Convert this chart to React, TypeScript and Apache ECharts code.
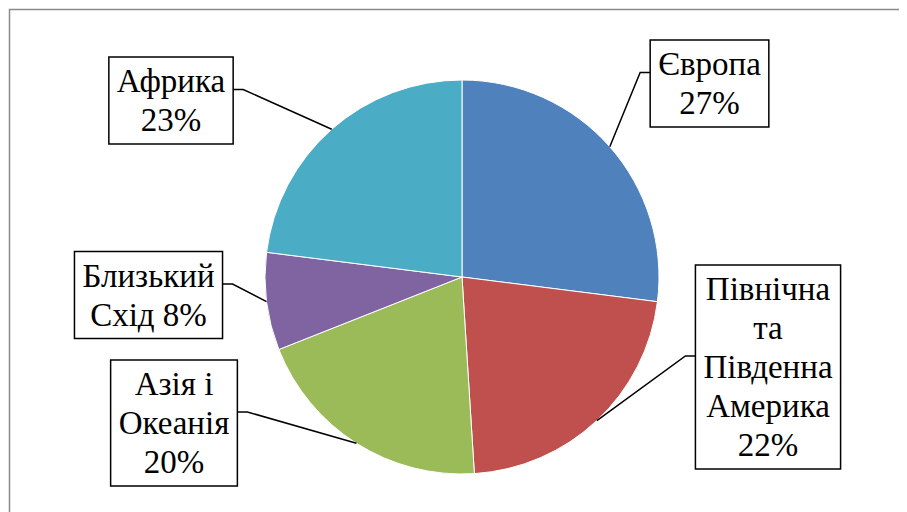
import React, { useEffect, useRef } from "react";
import * as echarts from "echarts";

const categories = [
  "Європа",
  "Північна та Південна Америка",
  "Азія і Океанія",
  "Близький Схід",
  "Африка",
];
const wrappedNames = [
  "Європа",
  "Північна\nта\nПівденна\nАмерика",
  "Азія і\nОкеанія",
  "Близький\nСхід",
  "Африка",
];
const percentSeparators = ["\n", "\n", "\n", " ", "\n"];
const values = [27, 22, 20, 8, 23];
const colors = ["#4F81BD", "#C0504D", "#9BBB59", "#8064A2", "#4BACC6"];

// layout (chart px): pie geometry and label box centres
const PIE_CX = 454;
const PIE_CY = 269;
const PIE_R = 197;
const labelCenters = [
  [701.5, 75.5],
  [760, 359],
  [166, 415],
  [140.5, 287],
  [163, 92.5],
];
const attachLeft = [true, true, false, false, false];

const FONT = "33px 'Liberation Serif', 'Times New Roman', serif";
const LINE_H = 39;
const PAD_X = 8;
const PAD_Y = 4.5;

function lineWidth(line: string): number {
  const c = document.createElement("canvas");
  const ctx = c.getContext("2d");
  if (!ctx) return line.length * 16;
  ctx.font = FONT;
  return ctx.measureText(line).width;
}

export default function App() {
  const ref = useRef<HTMLDivElement>(null);
  useEffect(() => {
    if (!ref.current) return;
    const chart = echarts.init(ref.current, undefined, { renderer: "svg" });

    const total = values.reduce((a, b) => a + b, 0);
    let cum = 0;
    const labelEls: any[] = [];
    values.forEach((v, i) => {
      const frac = (cum + v / 2) / total;
      cum += v;
      const theta = frac * Math.PI * 2;
      const sx = PIE_CX + PIE_R * Math.sin(theta);
      const sy = PIE_CY - PIE_R * Math.cos(theta);
      const text =
        wrappedNames[i] +
        percentSeparators[i] +
        Math.round((v / total) * 100) +
        "%";
      const lines = text.split("\n");
      const widths = lines.map(lineWidth);
      const [cx, cy] = labelCenters[i];
      const w = Math.max(...widths) + PAD_X * 2;
      const h = lines.length * LINE_H + PAD_Y * 2;
      const edge = attachLeft[i] ? cx - w / 2 : cx + w / 2;
      const mid = attachLeft[i] ? edge - 10 : edge + 10;
      const ly = cy - 11;
      labelEls.push({
        type: "polyline",
        shape: { points: [[sx, sy], [mid, ly], [edge, ly]] },
        style: { stroke: "#000000", lineWidth: 1.5, fill: "none" },
        silent: true,
        z: 10,
      });
      labelEls.push({
        type: "rect",
        shape: { x: cx - w / 2, y: cy - h / 2, width: w, height: h },
        style: { fill: "#ffffff", stroke: "#000000", lineWidth: 1.5 },
        silent: true,
        z: 11,
      });
      lines.forEach((line, k) => {
        labelEls.push({
          type: "text",
          x: cx - widths[k] / 2,
          y: cy + (k - (lines.length - 1) / 2) * LINE_H,
          z: 12,
          style: {
            text: line,
            font: FONT,
            fill: "#000000",
            verticalAlign: "middle",
          },
        });
      });
    });

    chart.setOption({
      animation: false,
      backgroundColor: "#ffffff",
      graphic: [
        {
          type: "rect",
          shape: { x: 1.5, y: 1.5, width: 1200, height: 1200 },
          style: { fill: "none", stroke: "#8a8a8a", lineWidth: 1.5 },
          silent: true,
          z: 100,
        },
        ...labelEls,
      ],
      series: [
        {
          type: "pie",
          center: [PIE_CX, PIE_CY],
          radius: [0, PIE_R],
          startAngle: 90,
          clockwise: true,
          data: categories.map((c, i) => ({
            name: c,
            value: values[i],
            itemStyle: { color: colors[i] },
          })),
          itemStyle: { borderColor: "#ffffff", borderWidth: 1 },
          label: { show: false },
          labelLine: { show: false },
        },
      ],
    });
    return () => chart.dispose();
  }, []);
  return <div ref={ref} style={{ width: 899, height: 504 }} />;
}
